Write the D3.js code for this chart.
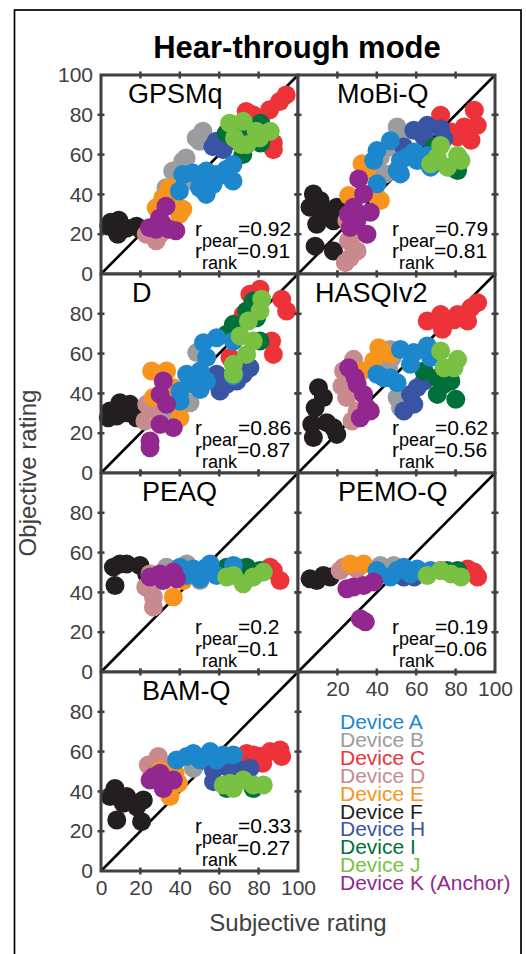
<!DOCTYPE html>
<html>
<head>
<meta charset="utf-8">
<script src="https://cdn.jsdelivr.net/npm/d3@7"></script>
<style>
  body { margin: 0; background: #fff; }
  svg { display: block; }
  text { font-family: "Liberation Sans", Arial, Helvetica, sans-serif; }
</style>
</head>
<body>
<div id="chart"></div>
<script>
'use strict';

/*** Data */
/** Devices (legend order) */
const devices = ["A", "B", "C", "D", "E", "F", "H", "I", "J", "K"];
const deviceNames = ["Device A", "Device B", "Device C", "Device D", "Device E",
                     "Device F", "Device H", "Device I", "Device J", "Device K (Anchor)"];

/** Measures, one panel each */
const measures = ["GPSMq", "MoBi-Q", "D", "HASQIv2", "PEAQ", "PEMO-Q", "BAM-Q"];
const rPear = [0.92, 0.79, 0.86, 0.62, 0.2, 0.19, 0.33];
const rRank = [0.91, 0.81, 0.87, 0.56, 0.1, 0.06, 0.27];

/** Ticks */
const ticks = [0, 20, 40, 60, 80, 100];

/** Points: [device, subjective, objective] */
const gpsmqPoints = [
  ["F",4,24],["F",9,27],["F",13,23],["F",8.5,20],["F",18,24],["F",20,22.5],["F",5,26],
  ["D",23,20],["D",28,16.7],["D",30,20],["D",25.5,22.5],
  ["B",51.7,71.7],["B",50,66.7],["B",41.5,56.7],["B",36.4,51.7],["B",33,43.3],["B",46.6,46.7],["B",43.2,58.3],["B",48.3,68.3],
  ["E",34.7,43.3],["E",31.4,38.3],["E",28,33.3],["E",41.5,32.5],["E",39.8,30],["E",36.4,40],
  ["C",94,90],["C",90.7,86.7],["C",85.6,82.5],["C",73.7,81.7],["C",81,78.3],["C",87.5,65.8],["C",87.5,62.5],["C",77,80],
  ["H",58.5,66.7],["H",62,62.5],["H",56.8,64],["H",65.3,66.7],
  ["I",67,75],["I",81,75.8],["I",81,65.8],["I",72,60],["I",73.7,68.3],["I",63.6,70.8],
  ["A",41.5,50],["A",46.6,50.8],["A",53.4,51.7],["A",58.5,50],["A",63.6,52.5],["A",67,55],["A",67,46.7],["A",53.4,40],["A",56.8,45],["A",39.8,41.7],["A",50,43.3],["A",59.3,49],
  ["J",65.3,75.8],["J",72.2,76.7],["J",71.2,65],["J",78.8,71.7],["J",85.9,71.7],["J",74,65],["J",67.8,68.3],["J",80.5,68.3],
  ["K",33,34],["K",29.7,28],["K",24.6,23.3],["K",34.7,22.5],["K",38,21.7],["K",31.4,25],["K",28,22.5]
];

const mobiqPoints = [
  ["F",7.8,40.2],["F",6.1,33.5],["F",12.9,30],["F",18,26.8],["F",9.5,25],["F",8.7,14],["F",18,11.6],["F",19.7,33.5],["F",11.2,36.9],
  ["D",24.8,26.8],["D",25.6,16.7],["D",26.5,8.2],["D",30,11.6],["D",24,5.7],["D",28.2,20],
  ["B",50.3,73.9],["B",52,68.9],["B",46.9,63.8],["B",41.8,58.8],["B",44.4,50.3],["B",38.4,52],
  ["E",32.5,55.4],["E",25.7,39.4],["E",40.1,38.6],["E",35,52],["E",41.8,36.9],
  ["C",72.4,79.8],["C",89.5,82.3],["C",84.4,73.9],["C",87.8,67.2],["C",81,68.9],["C",77.6,71.4],["C",91,74.7],
  ["H",58.8,72.2],["H",65.6,74.7],["H",72.4,73],["H",74.1,68],["H",53.7,63.8],["H",64,68.9],
  ["I",64,57],["I",77.6,53.7],["I",81,52],["I",69,63.8],
  ["A",40.1,62],["A",46.9,67],["A",38.4,57],["A",40.1,45.3],["A",52,57],["A",52,50.3],["A",55.4,58.8],["A",59,61.3],["A",65.6,59.6],["A",67.3,53.7],["A",60.5,57],["A",50.3,52],
  ["J",72.4,64.6],["J",67.3,55.4],["J",81,59.6],["J",82.7,57],["J",75.8,53.7],["J",70.7,58.8],
  ["K",30.8,47.8],["K",33.3,40.2],["K",28.2,33.5],["K",36.7,31],["K",26.5,23.4],["K",35,20],["K",29.9,26.8],["K",25.6,30]
];

const dPoints = [
  ["F",4.6,31.2],["F",9.6,35.3],["F",14.7,34.5],["F",8,28.6],["F",18,27.8],["F",13,30.3],["F",3.7,27.8],
  ["D",23.2,34.5],["D",26.6,29.5],["D",30,24.5],["D",22.3,26.1],["D",31.6,31.2],
  ["B",48.6,60.5],["B",45.2,35.3],["B",40.1,34.5],["B",36.7,31.2],
  ["E",25.7,51.3],["E",33.3,51.3],["E",26.6,37.9],["E",40.1,27.8],["E",36.7,42.9],
  ["C",75.6,89.8],["C",80.7,92.3],["C",91.7,87.3],["C",94.2,81.4],["C",86.6,66.3],["C",87.5,59.6],["C",72.2,79.7],["C",65.5,58],
  ["H",58.7,49.6],["H",63.8,44.6],["H",60.4,41.2],["H",72.2,49.6],["H",75.6,52.9],["H",68.9,46.2],
  ["I",77.3,86.4],["I",73.9,81.4],["I",67.2,74.7],["I",80.7,66.3],["I",63.8,69.7],["I",79,78],
  ["A",52,65.5],["A",58.7,68],["A",67.2,66.3],["A",53.6,58],["A",43.5,49.6],["A",50.3,51.3],["A",40.1,41.2],["A",46.9,44.6],["A",53.6,46.2],["A",40.1,36.2],["A",67.2,48.7],["A",50.3,42],
  ["J",81.6,87.3],["J",80.7,81.4],["J",74.8,76.4],["J",70.6,68.8],["J",73.9,59.6],["J",67.2,54.6],["J",77.3,66.3],["J",67.2,49.6],
  ["K",31.6,46.2],["K",30,39.5],["K",33.3,34.5],["K",30,24.5],["K",36.7,22.8],["K",24.9,16.1],["K",24.9,12.7]
];

const hasqiPoints = [
  ["F",10.4,42.9],["F",12.9,37.9],["F",8.7,32.8],["F",7,24.5],["F",7.8,17.8],["F",18,22.8],["F",19.7,19.4],["F",14.6,25.3],
  ["D",28.2,57.1],["D",23.1,51.3],["D",22.3,43.7],["D",24.7,37.9],["D",27.4,26.1],["D",30,31.2],
  ["B",46.9,62.1],["B",46,52.9],["B",50.3,37.9],["B",52,32.8],["B",47.8,58],
  ["E",41,63],["E",38.4,56.3],["E",32.5,51.3],["E",46.9,59.6],
  ["C",65.6,76.4],["C",72.4,79.7],["C",73.3,72.2],["C",81,79.7],["C",87.8,83],["C",91.2,85.6],["C",86.1,76.4],["C",79.2,77],
  ["H",57.1,39.5],["H",60.5,42.9],["H",53.7,31.2],["H",64,46.2],["H",58.8,34.5],
  ["I",64,51.3],["I",70.7,47.9],["I",77.6,46.2],["I",70.7,39.5],["I",80.1,37],["I",74.1,44.6],
  ["A",52,62.1],["A",58.8,60.5],["A",65.6,63.8],["A",57.1,54.6],["A",40.1,49.6],["A",46.9,47.9],["A",50.3,45.4],["A",67.3,58],["A",43.5,47.9],
  ["J",72.4,61.3],["J",81,57.1],["J",74.1,52.9],["J",79.2,52.9],
  ["K",25.7,52.9],["K",30,44.6],["K",33.3,39.5],["K",35,32.8],["K",31.6,27.8],["K",36.7,31.2],["K",29,48]
];

const peaqPoints = [
  ["F",6.3,52.7],["F",13,54.3],["F",19.8,53.5],["F",23.2,49.3],["F",7.1,43.5],["F",9.6,54.3],
  ["D",24.9,49.3],["D",22.7,42.7],["D",26.6,37.7],["D",26.6,32.7],["D",30,46],
  ["B",33.3,52.7],["B",43.5,54.3],["B",50.3,46],["B",55.8,52.7],
  ["E",36.7,37.7],["E",41.8,46],
  ["C",87.5,51],["C",90.9,46],["C",85.8,52.7],
  ["H",68.9,52.7],
  ["I",63.8,52.7],["I",73.9,52.7],["I",80.7,51],["I",72.2,49.3],
  ["A",40.1,52.7],["A",46.9,51.8],["A",53.6,52.7],["A",58.7,48.5],["A",50.3,46.8],["A",67.2,53.5],["A",43.5,48.5],["A",55.4,54.3],
  ["J",67.2,48.5],["J",72.2,44.3],["J",77.3,47.7],["J",82.4,50.2],["J",63.8,47.7],
  ["K",24.9,47.7],["K",30,49.3],["K",36.7,50.2],["K",31.6,46],["K",38.4,46.8]
];

const pemoqPoints = [
  ["F",6.1,46.8],["F",12.9,48.5],["F",16.3,47.7],["F",9.5,46],
  ["D",23.1,52.7],["D",29.9,51.8],["D",21.4,51],
  ["B",41.8,53.5],["B",48.6,53.5],
  ["E",33.3,54.3],["E",26.5,54.3],
  ["C",72.4,51],["C",89.5,50.2],["C",91.2,47.7],["C",86.1,51.8],
  ["H",53.7,47.7],["H",59,47.7],
  ["I",75.8,51],["I",81,51],
  ["A",40.1,51],["A",46.9,47.7],["A",53.7,52.7],["A",60.5,51.8],["A",67.3,51],["A",50.3,51],["A",57.1,49.3],
  ["J",65.6,48.5],["J",72.4,51],["J",82.7,47.7],["J",77.6,49.3],
  ["K",24.8,41.8],["K",33.3,43.5],["K",38.4,45.2],["K",31.6,26.8],["K",34.2,25.2],["K",28.2,42.7]
];

const bamqPoints = [
  ["F",7.1,41.5],["F",4.6,37.4],["F",13,37.4],["F",21.5,35.7],["F",18.1,32.3],["F",8,25.6],["F",20.6,24.8],["F",11.3,34],
  ["D",24,53.3],["D",29.1,57.5],["D",31.6,53.3],["D",26.6,50.8],
  ["B",46.9,51.6],
  ["E",30,50.8],["E",35,37.4],["E",39.3,44.1],["E",37.6,49.1],
  ["C",73.9,59.1],["C",80.7,57.5],["C",85.8,60],["C",90.9,60.8],["C",91.7,57.5],["C",82.1,54.1],["C",77.3,58.3],
  ["H",57.1,50.8],["H",70.6,50.8],["H",75.6,51.6],["H",57.1,44.9],["H",64,52.4],
  ["I",63.8,41.5],["I",77.3,41.5],
  ["A",38.4,55.8],["A",46.9,59.1],["A",55.4,60],["A",58.7,55.8],["A",67.2,58.3],["A",50.3,55.8],["A",62.1,58.3],["A",43.5,57.5],
  ["J",65.5,44.1],["J",72.2,45.7],["J",77.3,43.2],["J",82.4,43.2],["J",67.2,41.5],["J",62.1,43.2],
  ["K",24.9,45.7],["K",30,49.1],["K",36.7,45.7],["K",31.6,41.5],["K",26.6,47.4]
];

const panelPoints = [gpsmqPoints, mobiqPoints, dPoints, hasqiPoints, peaqPoints, pemoqPoints, bamqPoints];

/*** Styles */
const deviceColor = d3.scaleOrdinal()
    .domain(devices)
    .range(["#1c87cd", "#9b9c9f", "#ee3239", "#c98a8e", "#f7941e",
            "#231f20", "#3a54a4", "#00703a", "#7ac143", "#92278f"]);

// stacking order of the clouds (first is drawn underneath)
const drawOrder = ["F", "D", "B", "E", "C", "H", "I", "A", "J", "K"];

const axisGrey = "#404040";
const labelX = [27, 39, 31, 17, 41, 40, 41]; // left edge of each panel title, px from panel left

/*** Layout */
const w = 526;
const h = 954;
const panelW = 197;
const panelH = 199;
const left0 = 101;
const top0 = 75;
const dotR = 9.5;

const svg = d3.select("#chart")
    .append("svg")
    .attr("width", w)
    .attr("height", h);

/** Outer frame */
svg.append("rect")
    .attr("x", 14.5).attr("y", 10)
    .attr("width", 506.5).attr("height", 970)
    .attr("fill", "none")
    .attr("stroke", "#000")
    .attr("stroke-width", 1.7);

/** Title */
svg.append("text")
    .attr("x", 297).attr("y", 58)
    .attr("text-anchor", "middle")
    .attr("font-size", 31)
    .attr("font-weight", "bold")
    .attr("fill", "#000")
    .text("Hear-through mode");

const xScale = d3.scaleLinear().domain([0, 100]).range([0, panelW]);
const yScale = d3.scaleLinear().domain([0, 100]).range([panelH, 0]);
const inner = ticks.slice(1, -1);

measures.forEach((name, i) => {
    const col = i % 2;
    const row = Math.floor(i / 2);
    const g = svg.append("g")
        .attr("transform", "translate(" + (left0 + col * panelW) + "," + (top0 + row * panelH) + ")");

    // white background
    g.append("rect")
        .attr("width", panelW).attr("height", panelH)
        .attr("fill", "#fff");

    // identity line
    g.append("line")
        .attr("x1", xScale(0)).attr("y1", yScale(0))
        .attr("x2", xScale(100)).attr("y2", yScale(100))
        .attr("stroke", "#000")
        .attr("stroke-width", 2.6);

    // points
    const pts = panelPoints[i].slice().sort((a, b) => drawOrder.indexOf(a[0]) - drawOrder.indexOf(b[0]));
    g.selectAll("circle")
        .data(pts)
        .enter()
        .append("circle")
        .attr("cx", (d) => xScale(d[1]))
        .attr("cy", (d) => yScale(d[2]))
        .attr("r", dotR)
        .attr("fill", (d) => deviceColor(d[0]));

    // frame
    g.append("rect")
        .attr("width", panelW).attr("height", panelH)
        .attr("fill", "none")
        .attr("stroke", axisGrey)
        .attr("stroke-width", 3);

    // tick marks on all four sides, pointing in and out
    const tk = 3.5;
    inner.forEach((t) => {
        [0, panelH].forEach((yy) => {
            g.append("line")
                .attr("x1", xScale(t)).attr("x2", xScale(t))
                .attr("y1", yy - tk).attr("y2", yy + tk)
                .attr("stroke", axisGrey).attr("stroke-width", 2.5);
        });
        [0, panelW].forEach((xx) => {
            g.append("line")
                .attr("y1", yScale(t)).attr("y2", yScale(t))
                .attr("x1", xx - tk).attr("x2", xx + tk)
                .attr("stroke", axisGrey).attr("stroke-width", 2.5);
        });
    });

    // y tick labels on left column
    if (col === 0) {
        const yTicks = row === 0 ? ticks : ticks.slice(0, -1);
        const yAxis = d3.axisLeft(yScale).tickValues(yTicks).tickSize(0).tickPadding(8);
        const ga = g.append("g").call(yAxis);
        ga.select(".domain").remove();
        ga.selectAll("text")
            .attr("font-size", 21)
            .attr("font-family", null)
            .attr("fill", axisGrey);
    }

    // x tick labels under the lowest panel of each column
    if (i === 6 || i === 5) {
        const xTicks = col === 0 ? ticks : ticks.slice(1);
        const xAxis = d3.axisBottom(xScale).tickValues(xTicks).tickSize(0).tickPadding(9);
        const ga = g.append("g")
            .attr("transform", "translate(0," + panelH + ")")
            .call(xAxis);
        ga.select(".domain").remove();
        ga.selectAll("text")
            .attr("font-size", 21)
            .attr("font-family", null)
            .attr("fill", axisGrey);
    }

    // panel title
    g.append("text")
        .attr("x", labelX[i]).attr("y", 28)
        .attr("font-size", 27)
        .attr("fill", "#000")
        .text(name);

    // correlation text
    const corr = [["pear", rPear[i]], ["rank", rRank[i]]];
    corr.forEach((c, k) => {
        const t = g.append("text")
            .attr("x", 94).attr("y", 161 + k * 22)
            .attr("font-size", 21)
            .attr("fill", "#000");
        t.append("tspan").text("r");
        t.append("tspan").attr("dy", 11).attr("font-size", 18).text(c[0]);
        t.append("tspan").attr("dy", -11).text("=" + c[1]);
    });
});

/** Axis titles */
svg.append("text")
    .attr("transform", "translate(36," + (top0 + 2 * panelH) + ") rotate(-90)")
    .attr("text-anchor", "middle")
    .attr("font-size", 24)
    .attr("fill", axisGrey)
    .text("Objective rating");

svg.append("text")
    .attr("x", left0 + panelW).attr("y", 931)
    .attr("text-anchor", "middle")
    .attr("font-size", 24)
    .attr("fill", axisGrey)
    .text("Subjective rating");

/** Legend */
svg.append("g")
    .selectAll("text")
    .data(devices)
    .enter()
    .append("text")
    .attr("x", 340)
    .attr("y", (d, k) => 729 + k * 17.9)
    .attr("font-size", 21)
    .attr("fill", (d) => deviceColor(d))
    .text((d, k) => deviceNames[k]);
</script>
</body>
</html>
